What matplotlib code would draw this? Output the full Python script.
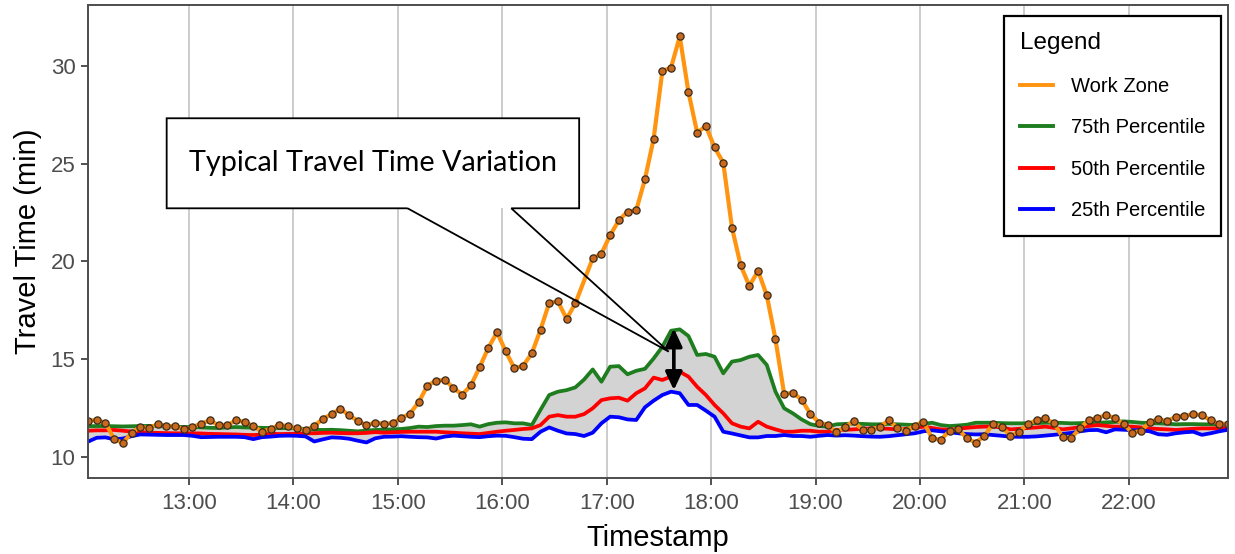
import numpy as np
import pandas as pd
import matplotlib
matplotlib.use("Agg")
import matplotlib.pyplot as plt
import matplotlib.dates as mdates
from matplotlib.patches import Rectangle, PathPatch, FancyArrowPatch
from matplotlib.path import Path
from matplotlib.lines import Line2D

plt.rcParams['font.family'] = ['Liberation Sans', 'DejaVu Sans']

# ---------------- data ----------------
start_time = "2020-01-01 12:02"
n_points = 132  # 5-minute intervals

work_zone = [
    11.83, 11.89, 11.73, 10.91, 10.70, 11.23, 11.52, 11.47, 11.66, 11.56,
    11.56, 11.40, 11.52, 11.69, 11.86, 11.61, 11.61, 11.86, 11.78, 11.56,
    11.28, 11.43, 11.62, 11.56, 11.45, 11.35, 11.57, 11.95, 12.17, 12.46,
    12.12, 11.84, 11.61, 11.74, 11.69, 11.71, 11.98, 12.21, 12.79, 13.63,
    13.90, 13.93, 13.52, 13.18, 13.65, 14.58, 15.57, 16.37, 15.40, 14.52,
    14.66, 15.29, 16.50, 17.88, 17.95, 17.06, 17.85, np.nan, 20.16, 20.40,
    21.34, 22.10, 22.55, 22.62, 24.21, 26.28, 29.75, 29.92, 31.52, 28.67,
    26.59, 26.93, 25.84, 25.05, 21.73, 19.80, 18.74, 19.52, 18.26, 16.01,
    13.20, 13.28, 12.92, 12.20, 11.75, 11.63, 11.25, 11.54, 11.81, 11.37,
    11.37, 11.54, 11.86, 11.49, 11.33, 11.59, 11.80, 10.94, 10.86, 11.33,
    11.42, 10.94, 10.72, 11.06, 11.69, 11.54, 11.08, 11.28, 11.66, 11.88,
    11.96, 11.71, 10.99, 10.97, 11.45, 11.88, 11.98, 12.14, 11.96, 11.67,
    11.23, 11.33, 11.76, 11.93, 11.81, 12.05, 12.10, 12.17, 12.14, 11.86,
    11.69, 11.69,
]

p75 = [
    11.56, 11.57, 11.57, 11.56, 11.55, 11.56, 11.57, 11.58, 11.56, 11.55,
    11.54, 11.52, 11.52, 11.50, 11.48, 11.47, 11.50, 11.52, 11.50, 11.49,
    11.48, 11.47, 11.47, 11.46, 11.45, 11.42, 11.38, 11.37, 11.38, 11.36,
    11.33, 11.30, 11.34, 11.37, 11.39, 11.40, 11.42, 11.47, 11.54, 11.52,
    11.57, 11.59, 11.59, 11.62, 11.66, 11.54, 11.67, 11.74, 11.76, 11.71,
    11.71, 11.62, 12.40, 13.16, 13.33, 13.41, 13.55, 13.95, 14.47, 13.84,
    14.61, 14.64, 14.22, 14.40, 14.50, 15.03, 15.63, 16.45, 16.52, 16.18,
    15.21, 15.26, 15.12, 14.27, 14.87, 14.95, 15.12, 15.21, 14.70, 13.33,
    12.48, 12.22, 11.91, 11.67, 11.57, 11.54, 11.66, 11.68, 11.70, 11.68,
    11.66, 11.66, 11.68, 11.66, 11.64, 11.62, 11.68, 11.74, 11.62, 11.57,
    11.60, 11.64, 11.74, 11.74, 11.74, 11.72, 11.71, 11.71, 11.71, 11.72,
    11.74, 11.74, 11.73, 11.71, 11.72, 11.74, 11.74, 11.76, 11.78, 11.81,
    11.78, 11.74, 11.72, 11.71, 11.69, 11.66, 11.67, 11.67, 11.66, 11.66,
    11.66, 11.66,
]

p50 = [
    11.33, 11.35, 11.35, 11.37, 11.33, 11.29, 11.27, 11.23, 11.22, 11.21,
    11.20, 11.20, 11.20, 11.19, 11.17, 11.16, 11.15, 11.14, 11.12, 11.11,
    11.13, 11.18, 11.16, 11.17, 11.18, 11.20, 11.20, 11.22, 11.23, 11.21,
    11.20, 11.20, 11.22, 11.26, 11.23, 11.25, 11.27, 11.28, 11.28, 11.28,
    11.28, 11.25, 11.23, 11.20, 11.18, 11.16, 11.22, 11.28, 11.33, 11.37,
    11.42, 11.45, 11.62, 12.05, 12.13, 12.05, 12.05, 12.18, 12.48, 12.90,
    12.99, 13.02, 12.87, 13.25, 13.50, 14.05, 13.93, 14.10, 14.35, 14.10,
    13.58, 13.16, 12.65, 12.22, 11.71, 11.54, 11.45, 11.79, 11.54, 11.40,
    11.28, 11.28, 11.33, 11.33, 11.28, 11.28, 11.37, 11.38, 11.40, 11.43,
    11.45, 11.45, 11.43, 11.40, 11.43, 11.47, 11.54, 11.47, 11.40, 11.38,
    11.43, 11.48, 11.52, 11.54, 11.54, 11.50, 11.40, 11.43, 11.47, 11.50,
    11.54, 11.48, 11.40, 11.45, 11.52, 11.57, 11.62, 11.58, 11.54, 11.54,
    11.54, 11.50, 11.45, 11.42, 11.40, 11.37, 11.40, 11.43, 11.45, 11.45,
    11.46, 11.47,
]

p25 = [
    10.77, 10.97, 10.99, 10.89, 10.93, 11.05, 11.14, 11.13, 11.12, 11.11,
    11.11, 11.11, 11.07, 11.00, 11.01, 11.02, 11.02, 11.02, 11.00, 10.90,
    11.00, 11.03, 11.07, 11.08, 11.07, 11.04, 10.78, 10.89, 10.99, 10.97,
    10.92, 10.82, 10.73, 10.94, 11.02, 11.03, 11.05, 11.02, 11.00, 10.99,
    10.93, 11.03, 11.08, 11.05, 11.02, 11.00, 11.05, 11.08, 11.07, 11.00,
    10.92, 10.90, 11.28, 11.50, 11.33, 11.19, 11.16, 11.06, 11.23, 11.71,
    12.05, 12.02, 11.91, 11.88, 12.53, 12.87, 13.16, 13.33, 13.25, 12.65,
    12.65, 12.36, 12.05, 11.28, 11.19, 11.09, 10.99, 10.99, 11.06, 11.06,
    11.11, 11.06, 11.06, 11.02, 11.07, 11.11, 11.08, 11.10, 11.08, 11.05,
    11.03, 11.02, 11.05, 11.10, 11.15, 11.20, 11.30, 11.35, 11.30, 11.26,
    11.20, 11.16, 11.14, 11.15, 11.11, 11.07, 11.03, 11.02, 11.02, 11.04,
    11.08, 11.12, 11.17, 11.22, 11.30, 11.36, 11.37, 11.25, 11.40, 11.38,
    11.36, 11.35, 11.30, 11.15, 11.12, 11.20, 11.25, 11.28, 11.12, 11.20,
    11.30, 11.38,
]

series_labels = ["Work Zone", "75th Percentile", "50th Percentile", "25th Percentile"]
series_colors = ["#FF9410", "#1E7D1E", "#FF0000", "#0000FF"]
y_ticks = [10, 15, 20, 25, 30]
x_tick_hours = ["13:00", "14:00", "15:00", "16:00", "17:00",
                "18:00", "19:00", "20:00", "21:00", "22:00"]
callout_text = "Typical Travel Time Variation"

# ---------------- figure ----------------
W, H = 1235, 554
fig = plt.figure(figsize=(W / 100, H / 100), dpi=100)
ax = fig.add_axes([88 / W, 1 - 478 / H, (1228 - 88) / W, (478 - 5) / H])

times = pd.date_range(start_time, periods=n_points, freq="5min")
x = mdates.date2num(times)
day = times[0].strftime("%Y-%m-%d")

def tx(hms):
    return mdates.date2num(pd.Timestamp(f"{day} {hms}"))

wz = np.array(work_zone, dtype=float)
a75 = np.array(p75); a50 = np.array(p50); a25 = np.array(p25)

ax.fill_between(x, a25, a75, color="#D3D3D3", lw=0, zorder=1)
ax.plot(x, a75, color=series_colors[1], lw=2.7, zorder=2)
ax.plot(x, a50, color=series_colors[2], lw=2.7, zorder=2)
ax.plot(x, a25, color=series_colors[3], lw=2.7, zorder=2)
m = ~np.isnan(wz)
ax.plot(x[m], wz[m], color=series_colors[0], lw=3.0, zorder=3)
ax.plot(x[m], wz[m], ls="none", marker="o", ms=5.2, mfc="#C8691F",
        mec="#3A2A18", mew=0.9, zorder=4)

ax.set_xlim(x[0], x[-1])
ax.set_ylim(8.91, 33.13)

xt = [tx(h) for h in x_tick_hours]
ax.set_xticks(xt)
ax.set_xticklabels(x_tick_hours)
ax.set_yticks(y_ticks)
ax.tick_params(axis="both", which="major", labelsize=16, colors="#333333",
               labelcolor="#4D4D4D", length=5, width=1.2, pad=4)
ax.tick_params(axis="x", pad=6)
ax.grid(axis="x", color="#C8C8C8", lw=1.3, zorder=0)
ax.set_axisbelow(True)
for s in ax.spines.values():
    s.set_color("#4D4D4D")
    s.set_linewidth(1.4)
    s.set_zorder(6)

ax.set_xlabel("Timestamp", fontsize=21, color="black", labelpad=7)
ax.set_ylabel("Travel Time (min)", fontsize=21, color="black", labelpad=6)

# ---------------- callout ----------------
bl, br = tx("12:47:12"), tx("16:44:12")
bb, bt = 22.72, 27.33
w1, w2 = tx("15:05:36"), tx("16:05:12")
tip = (tx("17:35:40"), 15.38)
ax.add_patch(Rectangle((bl, bb), br - bl, bt - bb, facecolor="white",
                       edgecolor="none", zorder=7))
verts = [(w1, bb), (bl, bb), (bl, bt), (br, bt), (br, bb), (w2, bb), tip, (w1, bb)]
codes = [Path.MOVETO] + [Path.LINETO] * 7
ax.add_patch(PathPatch(Path(verts, codes), facecolor="none", edgecolor="black",
                       lw=1.3, zorder=8, joinstyle="miter"))
t = ax.text((bl + br) / 2, (bb + bt) / 2, callout_text, ha="center", va="center",
            fontsize=22, family=["Lato", "DejaVu Sans"], color="black", zorder=9)
fig.canvas.draw()
wpx = t.get_window_extent().width
t.set_fontsize(22 * 367 / wpx)

# double arrow
ax_x = tx("17:38:36")
arr = FancyArrowPatch((ax_x, 13.41), (ax_x, 16.57),
                      arrowstyle="<|-|>,head_length=0.6,head_width=0.28",
                      mutation_scale=18, color="black", lw=2.6, zorder=9,
                      shrinkA=0, shrinkB=0)
ax.add_patch(arr)

# ---------------- legend ----------------
handles = [Line2D([0], [0], color=c, lw=2.8) for c in series_colors]
leg = ax.legend(handles, series_labels, title="Legend", loc="upper right",
                bbox_to_anchor=(1221 / W, 1 - 16 / H), bbox_transform=fig.transFigure,
                fontsize=14.5, title_fontsize=17.5, frameon=True, fancybox=False,
                edgecolor="black", framealpha=1, borderpad=0.8, labelspacing=1.12,
                handlelength=1.65, handletextpad=0.85, borderaxespad=0,
                alignment="left")
leg.get_frame().set_linewidth(1.6)
leg.set_zorder(10)

fig.savefig("out.png", dpi=100)
